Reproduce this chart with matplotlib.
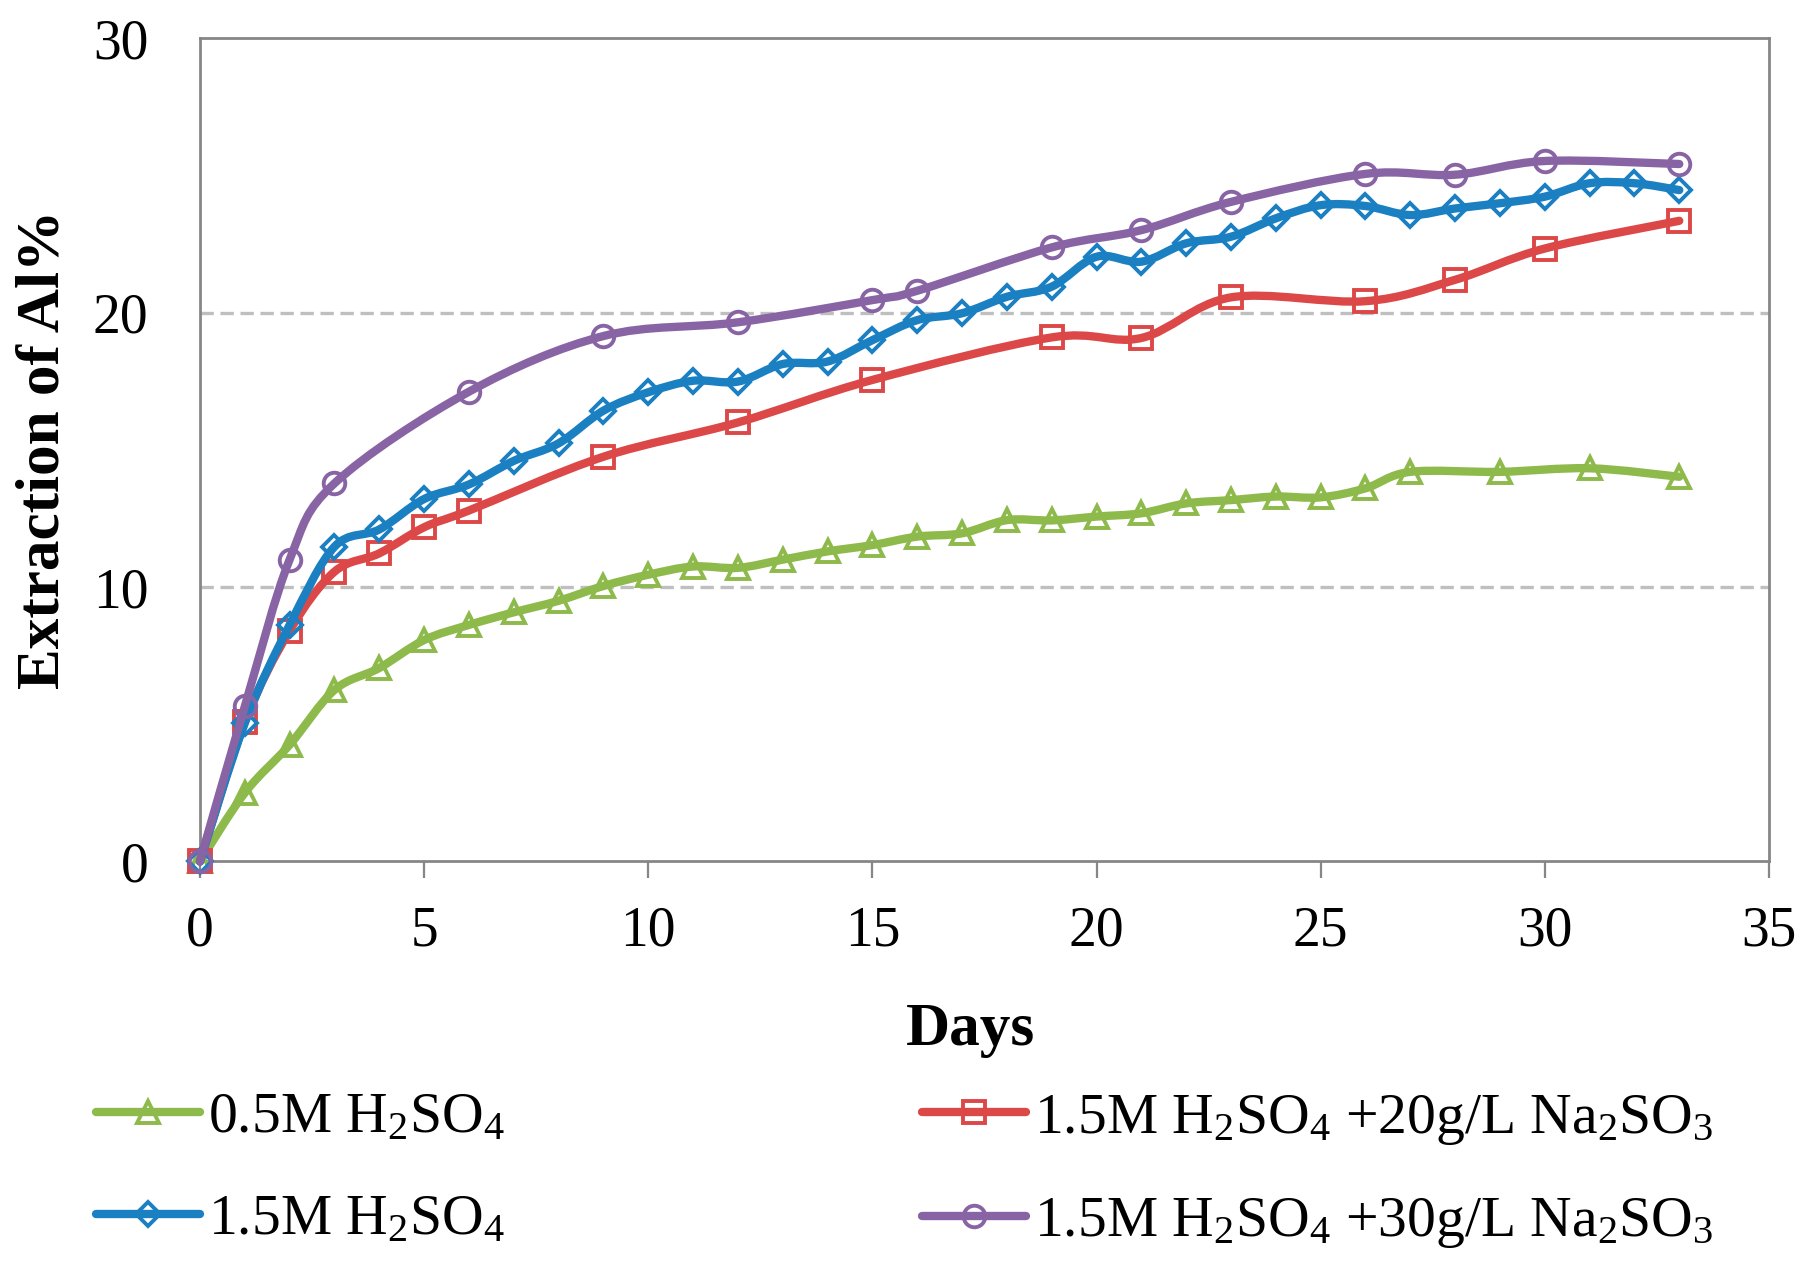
import numpy as np
import matplotlib
matplotlib.use('Agg')
import matplotlib.pyplot as plt
from matplotlib.path import Path
from matplotlib.patches import PathPatch
from matplotlib.lines import Line2D

plt.rcParams['font.family'] = ['Liberation Serif', 'DejaVu Serif']
plt.rcParams['mathtext.fontset'] = 'custom'
plt.rcParams['mathtext.rm'] = 'Liberation Serif'
plt.rcParams['mathtext.default'] = 'regular'

# 0.5M H2SO4
green_days = list(range(0, 28)) + [29, 31, 33]
green_vals = [0, 2.5, 4.25, 6.25, 7.05, 8.07, 8.62, 9.08, 9.5, 10.04, 10.45, 10.75, 10.7, 11.0,
              11.3, 11.53, 11.84, 11.96, 12.44, 12.43, 12.57, 12.69, 13.05, 13.17, 13.3, 13.27,
              13.6, 14.2, 14.2, 14.33, 14.02]

# 1.5M H2SO4
blue_days = list(range(0, 34))
blue_vals = [0, 5.04, 8.62, 11.47, 12.1, 13.21, 13.74, 14.6, 15.24, 16.43, 17.1, 17.52, 17.49,
             18.13, 18.22, 19.0, 19.73, 19.98, 20.58, 20.95, 22.04, 21.86, 22.53, 22.77, 23.44,
             23.92, 23.89, 23.56, 23.8, 23.99, 24.23, 24.72, 24.72, 24.47]

# 1.5M H2SO4 +20g/L Na2SO3
red_days = [0, 1, 2, 3, 4, 5, 6, 9, 12, 15, 19, 21, 23, 26, 28, 30, 33]
red_vals = [0, 5.08, 8.41, 10.56, 11.23, 12.18, 12.79, 14.75, 16.0, 17.55, 19.1, 19.08, 20.56,
            20.42, 21.2, 22.34, 23.35]

# 1.5M H2SO4 +30g/L Na2SO3
purple_days = [0, 1, 2, 3, 6, 9, 12, 15, 16, 19, 21, 23, 26, 28, 30, 33]
purple_vals = [0, 5.65, 11.0, 13.78, 17.12, 19.15, 19.65, 20.46, 20.8, 22.38, 23.01, 24.04,
               25.06, 25.03, 25.53, 25.42]

labels = {
    'green': r'0.5M H$_2$SO$_4$',
    'blue': r'1.5M H$_2$SO$_4$',
    'red': r'1.5M H$_2$SO$_4$ +20g/L Na$_2$SO$_3$',
    'purple': r'1.5M H$_2$SO$_4$ +30g/L Na$_2$SO$_3$',
}
colors = {'green': '#8DBA4B', 'blue': '#1A80C2', 'red': '#DC4848', 'purple': '#8864A5'}
markers = {'green': ('^', 16), 'blue': ('D', 12), 'red': ('s', 16), 'purple': ('o', 15.5)}

LW = 6.0
MEW = 2.8


def smooth_path(x, y):
    # excel-like smoothed line: catmull-rom segments as cubic beziers
    pts = np.column_stack([x, y]).astype(float)
    n = len(pts)
    verts = [pts[0]]
    codes = [Path.MOVETO]
    for i in range(n - 1):
        p0 = pts[i - 1] if i > 0 else pts[i]
        p1 = pts[i]
        p2 = pts[i + 1]
        p3 = pts[i + 2] if i + 2 < n else pts[i + 1]
        verts += [p1 + (p2 - p0) / 6, p2 - (p3 - p1) / 6, p2]
        codes += [Path.CURVE4] * 3
    return Path(verts, codes)


fig = plt.figure(figsize=(18.03, 12.70), dpi=100)
ax = fig.add_axes([0.1109, 0.3217, 0.8702, 0.6481])

series = [('green', green_days, green_vals), ('red', red_days, red_vals),
          ('blue', blue_days, blue_vals), ('purple', purple_days, purple_vals)]
z = 3
for key, d, v in series:
    patch = PathPatch(smooth_path(d, v), facecolor='none', edgecolor=colors[key], lw=LW,
                      capstyle='round', joinstyle='round', zorder=z, clip_on=False)
    ax.add_patch(patch)
    m, ms = markers[key]
    ax.plot(d, v, linestyle='none', marker=m, markersize=ms, markerfacecolor='none',
            markeredgecolor=colors[key], markeredgewidth=MEW, zorder=z + 0.5, clip_on=False)
    z += 1

ax.set_xlim(0, 35)
ax.set_ylim(0, 30)
ax.set_xticks(range(0, 36, 5))
ax.set_yticks([0, 10, 20, 30])

for s in ax.spines.values():
    s.set_color('#868686')
    s.set_linewidth(2.0)

ax.tick_params(axis='x', direction='out', length=12, width=1.6, color='#868686',
               labelsize=40, pad=20)
ax.tick_params(axis='y', length=0, labelsize=40, pad=37)

ax.yaxis.grid(True, color='#BFBFBF', lw=2.4, linestyle=(0, (4, 2)))
ax.set_axisbelow(True)
for gl, t in zip(ax.get_ygridlines(), ax.get_yticks()):
    if t in (0, 30):
        gl.set_visible(False)

ax.set_xlabel('Days', fontsize=44, fontweight='bold', va='baseline')
ax.xaxis.set_label_coords(0.491, -0.2229)
ax.set_ylabel('Extraction of Al%', fontsize=44, fontweight='bold', va='center')
ax.yaxis.set_label_coords(-0.0994, 0.5)

handles = []
for key in ['green', 'blue', 'red', 'purple']:
    m, ms = markers[key]
    handles.append(Line2D([], [], color=colors[key], lw=LW, marker=m, markersize=ms,
                          markerfacecolor='none', markeredgecolor=colors[key],
                          markeredgewidth=MEW, solid_capstyle='round', label=labels[key]))

fig.legend(handles=handles, ncol=2, loc='upper left', bbox_to_anchor=(0.0532, 0.140),
           frameon=False, fontsize=41.5, borderpad=0, borderaxespad=0, handlelength=1.8,
           handletextpad=0.14, columnspacing=7.25, labelspacing=0.86, numpoints=1)

fig.savefig('out.png', dpi=100)
